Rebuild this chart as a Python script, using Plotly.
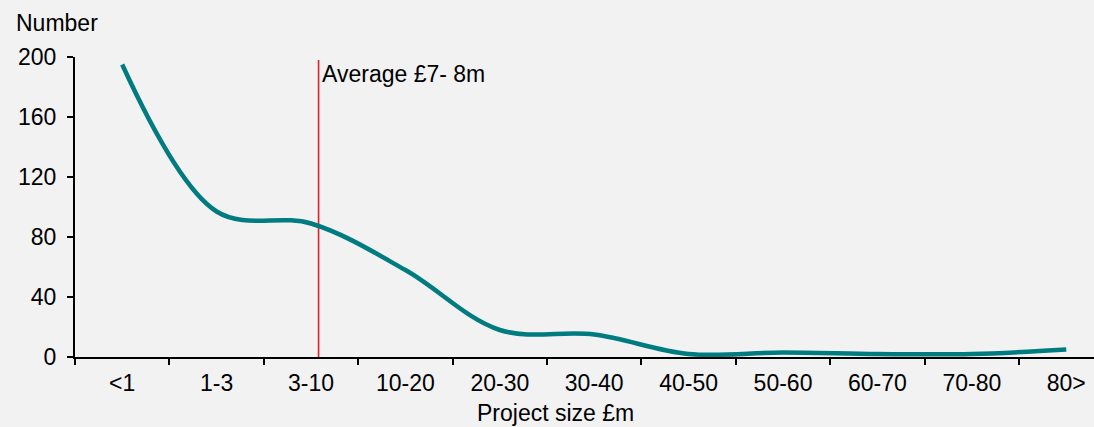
import plotly.graph_objects as go

# Project counts by size band
categories = ["<1", "1-3", "3-10", "10-20", "20-30", "30-40",
              "40-50", "50-60", "60-70", "70-80", "80>"]
counts = [195, 97, 89, 58, 18, 15, 2, 3, 2, 2, 5]

# Average project size marker (category-axis position between 3-10 bands)
avg_position = 2.08
avg_top = 198
avg_label = "Average £7- 8m"

y_ticks = [0, 40, 80, 120, 160, 200]

FONT = "Liberation Sans, Arial, sans-serif"
FS = 23
BG = "#f2f2f2"
TEAL = "#007b80"
RED = "#e0202a"

fig = go.Figure()

fig.add_trace(go.Scatter(
    x=categories,
    y=counts,
    mode="lines",
    line=dict(color=TEAL, width=4.5, shape="spline", smoothing=1.0),
    hoverinfo="x+y",
    showlegend=False,
))

# Vertical average marker
fig.add_shape(
    type="line", xref="x", yref="y",
    x0=avg_position, x1=avg_position, y0=0, y1=avg_top,
    line=dict(color=RED, width=1.6),
    layer="below",
)

fig.add_annotation(
    x=avg_position, y=189, xref="x", yref="y",
    text=avg_label, showarrow=False,
    xanchor="left", yanchor="middle", xshift=1,
    font=dict(family=FONT, size=FS, color="black"),
)

# Axis titles
fig.add_annotation(
    x=-0.06, y=1.113, xref="paper", yref="paper",
    text="Number", showarrow=False,
    xanchor="left", yanchor="middle",
    font=dict(family=FONT, size=FS, color="black"),
)
fig.add_annotation(
    x=0.4715, y=-0.186, xref="paper", yref="paper",
    text="Project size £m", showarrow=False,
    xanchor="center", yanchor="middle",
    font=dict(family=FONT, size=FS, color="black"),
)

fig.update_layout(
    width=1094, height=427,
    margin=dict(l=75, r=0, t=57, b=70),
    paper_bgcolor=BG, plot_bgcolor=BG,
    font=dict(family=FONT, size=FS, color="black"),
    showlegend=False,
)

fig.update_xaxes(
    type="category",
    range=[-0.5, 10.294],
    tickson="boundaries",
    showline=True, linecolor="black", linewidth=2,
    ticks="outside", ticklen=6, tickwidth=1.5, tickcolor="black",
    showgrid=False, zeroline=False,
    ticklabelstandoff=4,
    tickfont=dict(family=FONT, size=FS, color="black"),
)

fig.update_yaxes(
    range=[0, 200],
    tickvals=y_ticks,
    showline=True, linecolor="black", linewidth=2,
    ticks="outside", ticklen=6, tickwidth=1.5, tickcolor="black",
    showgrid=False, zeroline=False,
    ticklabelstandoff=6,
    tickfont=dict(family=FONT, size=FS, color="black"),
)

fig.write_html("out.html")
